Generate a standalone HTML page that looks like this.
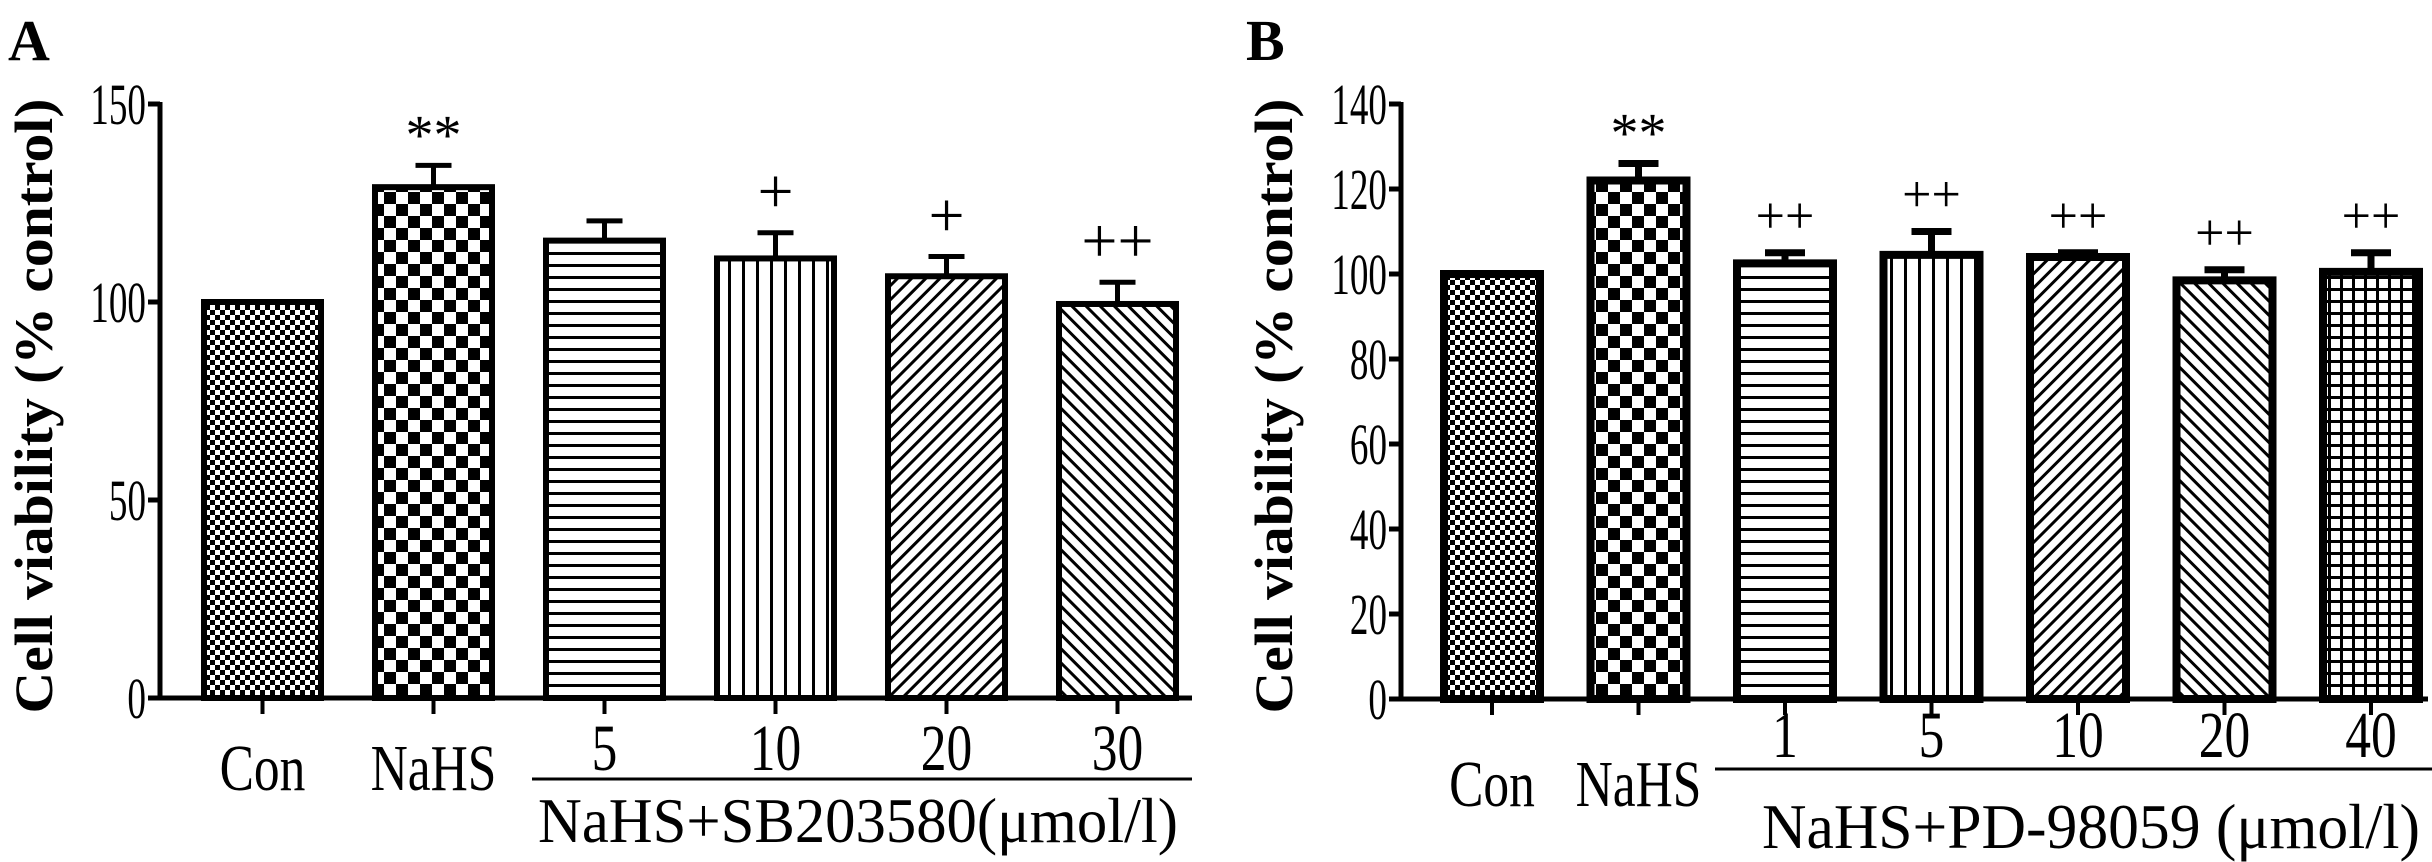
<!DOCTYPE html>
<html><head><meta charset="utf-8"><style>
html,body{margin:0;padding:0;background:#fff;width:2432px;height:862px;overflow:hidden}
svg{display:block}
text{font-family:"Liberation Serif",serif;fill:#000}
</style></head><body>
<svg id="fig" width="2432" height="862" viewBox="0 0 2432 862" xmlns="http://www.w3.org/2000/svg">
<defs>
<pattern id="p-fine" width="10" height="10" patternUnits="userSpaceOnUse"><rect width="10" height="10" fill="#fff"/><rect width="5" height="5" fill="#000"/><rect x="5" y="5" width="5" height="5" fill="#000"/></pattern>
<pattern id="p-check" width="24" height="24" patternUnits="userSpaceOnUse"><rect width="24" height="24" fill="#fff"/><rect width="12" height="12" fill="#000"/><rect x="12" y="12" width="12" height="12" fill="#000"/></pattern>
<pattern id="p-horiz" width="10" height="12" patternUnits="userSpaceOnUse"><rect width="10" height="12" fill="#fff"/><rect y="0" width="10" height="3" fill="#000"/></pattern>
<pattern id="p-vert" width="14" height="10" patternUnits="userSpaceOnUse"><rect width="14" height="10" fill="#fff"/><rect x="0" width="3" height="10" fill="#000"/></pattern>
<pattern id="p-diag1" width="10" height="10" patternUnits="userSpaceOnUse" patternTransform="rotate(45)"><rect width="10" height="10" fill="#fff"/><rect width="3" height="10" fill="#000"/></pattern>
<pattern id="p-diag2" width="10" height="10" patternUnits="userSpaceOnUse" patternTransform="rotate(-45)"><rect width="10" height="10" fill="#fff"/><rect width="3" height="10" fill="#000"/></pattern>
<pattern id="p-grid" width="12" height="12" patternUnits="userSpaceOnUse"><rect width="12" height="12" fill="#fff"/><rect width="3" height="12" fill="#000"/><rect width="12" height="3" fill="#000"/></pattern>
</defs>
</svg>
<script>
// Panel A data
const catsA = ["Con","NaHS","5","10","20","30"];
const valsA = [100,129,115.5,111,106.5,99.5];
const errsA = [0,5.5,5,6.5,5,5.5];
const marksA = ["","**","","+","+","++"];
const ticksA = [0,50,100,150];
// Panel B data
const catsB = ["Con","NaHS","1","5","10","20","40"];
const valsB = [100,122,102.5,104.5,104,98.5,100.5];
const errsB = [0,4,2.5,5.5,1,2.5,4.5];
const marksB = ["","**","++","++","++","++","++"];
const ticksB = [0,20,40,60,80,100,120,140];

const NS="http://www.w3.org/2000/svg";
const svg=document.getElementById('fig');
function mk(tag,attrs,parent){const e=document.createElementNS(NS,tag);for(const k in attrs)e.setAttribute(k,attrs[k]);(parent||svg).appendChild(e);return e;}
function txt(s,attrs,parent){const e=mk('text',attrs,parent);e.textContent=s;return e;}
function squeeze(e,f){try{const l=e.getComputedTextLength();if(l>0){e.setAttribute('textLength',(l*f).toFixed(1));e.setAttribute('lengthAdjust','spacingAndGlyphs');}}catch(err){}}

function panel(cfg){
  const g=mk('g',{});
  
  
  const y=v=>cfg.y0-(v/cfg.ymax)*(cfg.y0-cfg.ytop);
  const x=i=>cfg.x0+i*cfg.step;
  const lbl=txt(cfg.letter,{x:cfg.letterX,y:60,'font-size':58,'font-weight':'bold'},g);
  
  
  const yt=txt('Cell viability (% control)',{x:0,y:0,'font-size':54,'font-weight':'bold','text-anchor':'middle',textLength:615,lengthAdjust:'spacingAndGlyphs',transform:`translate(${cfg.titleX},406) rotate(-90)`},g);
  
  
  const ya=mk('line',{x1:cfg.ax,y1:cfg.ytop-2,x2:cfg.ax,y2:cfg.y0+2,stroke:'#000','stroke-width':5},g);
  
  
  const xa=mk('line',{x1:cfg.ax-12,y1:cfg.y0,x2:cfg.xend,y2:cfg.y0,stroke:'#000','stroke-width':5},g);
  
  
  cfg.ticks.forEach(t=>{
    const tl=mk('line',{x1:cfg.ax-12,y1:y(t),x2:cfg.ax,y2:y(t),stroke:'#000','stroke-width':5},g);
    
    
    const tt=txt(String(t),{x:cfg.ax-14,y:y(t)+20,'font-size':58,'text-anchor':'end'},g);
    
    
    squeeze(tt,0.64);
  });
  cfg.vals.forEach((v,i)=>{
    const cx=x(i);
    const top=y(v);
    const bar=mk('rect',{x:cx-cfg.bw/2,y:top,width:cfg.bw,height:cfg.y0-top,fill:`url(#${cfg.pats[i]})`,stroke:'#000','stroke-width':cfg.sw},g);
    
    
    if(cfg.errs[i]>0){
      const et=y(v+cfg.errs[i]);
      const el=mk('path',{d:`M${cx} ${top} V${et} M${cx-cfg.cap} ${et} H${cx+cfg.cap}`,stroke:'#000','stroke-width':cfg.sw-1,fill:'none'},g);
      
      
    }
    if(cfg.marks[i]){
      const et=y(v+cfg.errs[i]);
      const star=cfg.marks[i]==='**';
      const m=txt(cfg.marks[i],{x:cx,y:et-(star?12:20),'font-size':star?56:cfg.plusSize,'text-anchor':'middle'},g);
      
      
    }
    const tk=mk('line',{x1:cx,y1:cfg.y0,x2:cx,y2:cfg.y0+16,stroke:'#000','stroke-width':4},g);
    
    
    const isGroup=i<2;
    const cl=txt(cfg.cats[i],{x:cx,y:isGroup?cfg.catY:cfg.numY,'font-size':66,'text-anchor':'middle'},g);
    
    
    squeeze(cl,0.78);
  });
  const br=mk('line',{x1:cfg.lineX1,y1:cfg.lineY,x2:cfg.lineX2,y2:cfg.lineY,stroke:'#000','stroke-width':3},g);
  
  
  const gl=txt(cfg.groupLabel,{x:(cfg.glX1+cfg.glX2)/2,y:cfg.glY,'font-size':64,'text-anchor':'middle',textLength:cfg.glX2-cfg.glX1,lengthAdjust:'spacingAndGlyphs'},g);
  
  
}

panel({name:'panel-a',letter:'A',letterX:8,titleX:52,ax:160,y0:698,ytop:104,ymax:150,xend:1192,
  x0:262.5,step:171,bw:117,sw:6,cap:18,plusSize:64,cats:catsA,vals:valsA,errs:errsA,marks:marksA,ticks:ticksA,
  pats:['p-fine','p-check','p-horiz','p-vert','p-diag1','p-diag2'],
  catY:790,numY:770,lineX1:532,lineX2:1192,lineY:779,groupLabel:'NaHS+SB203580(\u03bcmol/l)',glX1:538,glX2:1178,glY:842});
panel({name:'panel-b',letter:'B',letterX:1246,titleX:1292,ax:1401,y0:699,ytop:104,ymax:140,xend:2428,
  x0:1492,step:146.5,bw:96,sw:8,cap:20,plusSize:52,cats:catsB,vals:valsB,errs:errsB,marks:marksB,ticks:ticksB,
  pats:['p-fine','p-check','p-horiz','p-vert','p-diag1','p-diag2','p-grid'],
  catY:806,numY:757,lineX1:1715,lineX2:2432,lineY:769,groupLabel:'NaHS+PD-98059 (\u03bcmol/l)',glX1:1762,glX2:2420,glY:848});
</script>
</body></html>
